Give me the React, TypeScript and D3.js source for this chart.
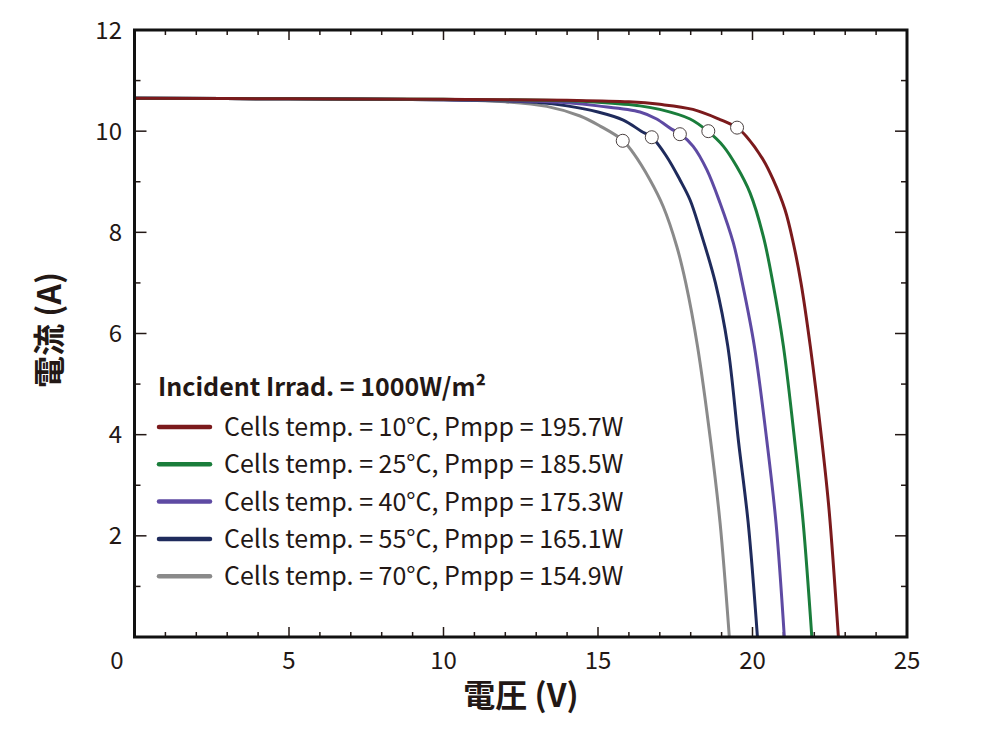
import React from "react";
import * as d3 from "d3";

const seriesLabels = [
  "Cells temp. = 10°C, Pmpp = 195.7W",
  "Cells temp. = 25°C, Pmpp = 185.5W",
  "Cells temp. = 40°C, Pmpp = 175.3W",
  "Cells temp. = 55°C, Pmpp = 165.1W",
  "Cells temp. = 70°C, Pmpp = 154.9W",
];
const seriesColors = ["#7b1a1c", "#1a7d3b", "#5e4aa3", "#1f2b5c", "#8a8a8a"];

const voltage10 = [0, 5, 10, 14, 16, 17, 18.07, 18.95, 19.5, 19.81, 20.35, 20.67, 21.05, 21.32, 21.57, 21.87, 22.25, 22.48, 22.78];
const current10 = [10.65, 10.64, 10.63, 10.61, 10.58, 10.53, 10.43, 10.23, 10.07, 9.89, 9.43, 9.04, 8.45, 7.79, 7.0, 5.75, 3.85, 2.5, 0];

const voltage25 = [0, 5, 10, 14, 15, 16.36, 17, 17.98, 18.57, 19.06, 19.49, 19.92, 20.35, 20.66, 21.0, 21.37, 21.64, 21.92];
const current25 = [10.65, 10.64, 10.63, 10.6, 10.57, 10.5, 10.43, 10.24, 9.99, 9.7, 9.3, 8.78, 7.92, 7.0, 5.75, 3.85, 2.26, 0];

const voltage40 = [0, 5, 10, 13, 14, 15, 16.36, 16.9, 17.38, 17.65, 18.08, 18.52, 18.95, 19.38, 19.67, 20.06, 20.47, 20.76, 21.03];
const current40 = [10.65, 10.64, 10.62, 10.59, 10.56, 10.5, 10.38, 10.24, 10.04, 9.95, 9.7, 9.24, 8.58, 7.79, 7.0, 5.75, 3.85, 2.26, 0];

const voltage55 = [0, 5, 10, 12, 13, 14, 15, 15.82, 16.4, 16.74, 17.22, 17.65, 17.98, 18.3, 18.8, 19.2, 19.55, 19.86, 20.16];
const current55 = [10.65, 10.64, 10.62, 10.6, 10.57, 10.5, 10.38, 10.22, 10.0, 9.88, 9.5, 9.04, 8.64, 8.05, 7.0, 5.75, 3.85, 2.26, 0];

const voltage70 = [0, 5, 10, 12, 13.34, 14.42, 15.07, 15.8, 16.14, 16.68, 17.11, 17.55, 17.84, 18.22, 18.65, 18.95, 19.25];
const current70 = [10.65, 10.64, 10.62, 10.58, 10.49, 10.3, 10.1, 9.82, 9.57, 9.04, 8.51, 7.72, 7.0, 5.75, 3.85, 2.26, 0];

const mppVoltage = [19.5, 18.57, 17.65, 16.74, 15.8];
const mppCurrent = [10.07, 10.0, 9.94, 9.88, 9.81];

const xTicks = [0, 5, 10, 15, 20, 25];
const yTicks = [2, 4, 6, 8, 10, 12];

const legendTitle = "Incident Irrad. = 1000W/m²";
const xTitle = "電圧 (V)";
const yTitle = "電流 (A)";

const voltages = [voltage10, voltage25, voltage40, voltage55, voltage70];
const currents = [current10, current25, current40, current55, current70];

const TEXT = "#231815";
const FONT = "'Noto Sans CJK JP', 'Noto Sans', sans-serif";

export default function App() {
  const left = 134.5, right = 907, top = 30, bottom = 637;
  const x = d3.scaleLinear().domain([0, 25]).range([left, right]);
  const y = d3.scaleLinear().domain([0, 12]).range([bottom, top]);
  const line = d3
    .line<[number, number]>()
    .x((d) => x(d[0]))
    .y((d) => y(d[1]))
    .curve(d3.curveCatmullRom.alpha(0.5));

  const xMinor = d3.range(0, 26, 1);
  const yMinor = d3.range(0, 13, 1);

  const drawOrder = [4, 3, 2, 1, 0];

  return (
    <svg
      width={1000}
      height={730}
      style={{ position: "absolute", left: 0, top: 0, background: "#fff" }}
      fontFamily={FONT}
    >
      <rect x={0} y={0} width={1000} height={730} fill="#fff" />
      {/* ticks */}
      <g stroke={TEXT} strokeWidth={1.5}>
        {xMinor.map((v) => {
          const len = v % 5 === 0 ? 10 : 5;
          return (
            <g key={"xt" + v}>
              <line x1={x(v)} x2={x(v)} y1={bottom} y2={bottom - len} />
              <line x1={x(v)} x2={x(v)} y1={top} y2={top + len} />
            </g>
          );
        })}
        {yMinor.map((v) => {
          const len = v % 2 === 0 ? 12 : 6;
          return (
            <g key={"yt" + v}>
              <line x1={left} x2={left + len} y1={y(v)} y2={y(v)} />
              <line x1={right} x2={right - len} y1={y(v)} y2={y(v)} />
            </g>
          );
        })}
      </g>
      {/* curves */}
      <g fill="none" strokeWidth={3} strokeLinejoin="round">
        {drawOrder.map((i) => {
          const pts: [number, number][] = voltages[i].map((v, k) => [v, currents[i][k]]);
          return <path key={"c" + i} d={line(pts) || ""} stroke={seriesColors[i]} />;
        })}
      </g>
      {/* MPP markers */}
      <g fill="#fff" stroke="#4a4040" strokeWidth={1}>
        {mppVoltage.map((v, i) => (
          <circle key={"m" + i} cx={x(v)} cy={y(mppCurrent[i])} r={6.5} />
        ))}
      </g>
      {/* frame */}
      <rect x={left} y={top} width={right - left} height={bottom - top} fill="none" stroke="#111" strokeWidth={3} />
      {/* tick labels */}
      <g fill={TEXT} fontSize={24}>
        {xTicks.map((v) => (
          <text
            key={"xl" + v}
            x={v === 0 ? 117 : x(v)}
            y={669}
            textAnchor="middle"
          >
            {v}
          </text>
        ))}
        {yTicks.map((v) => (
          <text key={"yl" + v} x={122} y={y(v) + 8.5} textAnchor="end">
            {v}
          </text>
        ))}
      </g>
      {/* axis titles */}
      <text x={521} y={707} textAnchor="middle" fontSize={32} fontWeight="bold" fill={TEXT}>
        {xTitle}
      </text>
      <text
        transform={`translate(61,330) rotate(-90)`}
        textAnchor="middle"
        fontSize={32}
        fontWeight="bold"
        fill={TEXT}
      >
        {yTitle}
      </text>
      {/* legend */}
      <text x={158} y={396} fontSize={25} fontWeight="bold" fill={TEXT}>
        {legendTitle}
      </text>
      {seriesLabels.map((lab, i) => {
        const ly = 427 + i * 37.3;
        return (
          <g key={"lg" + i}>
            <line x1={159} x2={210} y1={ly} y2={ly} stroke={seriesColors[i]} strokeWidth={4.5} strokeLinecap="round" />
            <text x={224} y={ly + 9} fontSize={25} fill={TEXT}>
              {lab}
            </text>
          </g>
        );
      })}
    </svg>
  );
}
